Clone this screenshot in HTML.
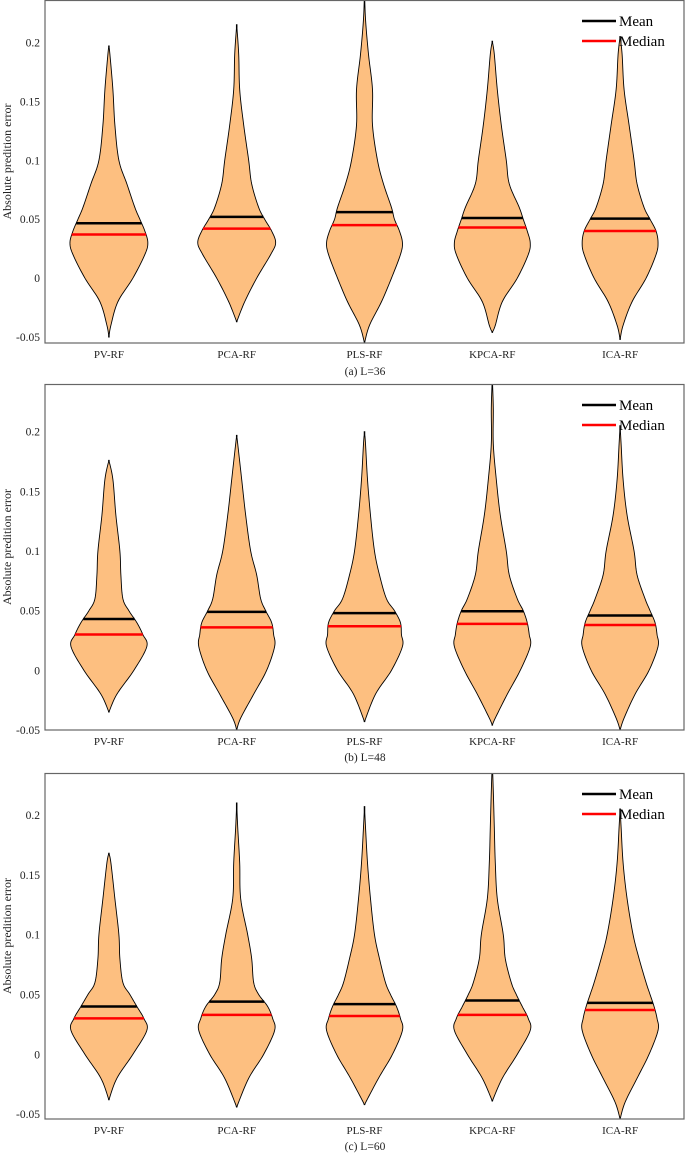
<!DOCTYPE html>
<html><head><meta charset="utf-8"><style>
html,body{margin:0;padding:0;background:#fff;}
svg{display:block;font-family:"Liberation Serif",serif;}
</style></head><body>
<svg id="chart" width="685" height="1154" viewBox="0 0 685 1154" xmlns="http://www.w3.org/2000/svg"></svg>
<script>
const categories = ["PV-RF","PCA-RF","PLS-RF","KPCA-RF","ICA-RF"];
const captions = ["(a) L=36","(b) L=48","(c) L=60"];
const yTicks = [-0.05,0,0.05,0.1,0.15,0.2];
const yTickLabels = ["-0.05","0","0.05","0.1","0.15","0.2"];
const levels = [-0.04,-0.02,0,0.02,0.03,0.04,0.05,0.06,0.08,0.10,0.13,0.16,0.19,0.22];
// panel (a) L=36
const minA = [-0.050,-0.037,-0.055,-0.046,-0.052];
const maxA = [0.197,0.215,0.245,0.201,0.205];
const meanA = [0.0466,0.052,0.056,0.051,0.0505];
const medianA = [0.037,0.042,0.045,0.043,0.040];
const widthA = [
 [2,9,24,36,39,36,31,26,18,10,6,4,1,0],
 [0,8,20,34,39,35,28,22,15,12,7,3,2,0],
 [5,17,27,36,38,35,30,27,19,13,8,8,4,1],
 [3,10,25,36,38,35,31,27,17,14,9,5,2,0],
 [3,12,26,36,38,36,30,24,17,14,9,4,2,0]
];
// panel (b) L=48
const minB = [-0.035,-0.050,-0.043,-0.046,-0.050];
const maxB = [0.176,0.197,0.200,0.245,0.205];
const meanB = [0.043,0.049,0.048,0.0495,0.046];
const medianB = [0.030,0.036,0.037,0.039,0.038];
const widthB = [
 [0,8,25,38,34,28,20,14,12,11,7,4,0,0],
 [4,17,30,38,37,35,29,24,20,14,9,5,1,0],
 [2,11,27,38,37,36,30,22,15,10,6,3,1,0],
 [3,15,28,38,37,35,31,25,17,14,8,4,1,1],
 [4,15,29,38,37,35,30,25,17,14,7,3,1,0]
];
// panel (c) L=60
const minC = [-0.038,-0.044,-0.042,-0.039,-0.054];
const maxC = [0.168,0.210,0.207,0.245,0.205];
const meanC = [0.040,0.044,0.042,0.045,0.043];
const medianC = [0.030,0.033,0.032,0.033,0.037];
const widthC = [
 [0,8,24,38,35,28,21,14,11,10,6,2,0,0],
 [2,12,27,38,36,31,22,17,15,11,4,3,1,0],
 [2,14,28,38,36,32,26,21,15,10,6,3,1,0],
 [0,10,25,38,36,30,24,19,13,11,5,3,2,1],
 [5,17,29,38,37,34,30,26,19,13,7,3,1,0]
];

const panels = [
 {top:0,bottom:343,ymin:-0.055,ymax:0.236,mins:minA,maxs:maxA,means:meanA,medians:medianA,widths:widthA,catY:358,capY:375},
 {top:384,bottom:730,ymin:-0.050,ymax:0.240,mins:minB,maxs:maxB,means:meanB,medians:medianB,widths:widthB,catY:745,capY:761},
 {top:773,bottom:1119,ymin:-0.054,ymax:0.235,mins:minC,maxs:maxC,means:meanC,medians:medianC,widths:widthC,catY:1134,capY:1150}
];
const NS="http://www.w3.org/2000/svg";
const svg=document.getElementById('chart');
const L=45,R=684;
function mk(tag,attrs,parent){const e=document.createElementNS(NS,tag);for(const k in attrs)e.setAttribute(k,attrs[k]);(parent||svg).appendChild(e);return e;}
function xScale(i){return L+(i+0.5)*(R-L)/categories.length;}
const wScale=(R-L)/categories.length/128; // density units -> px

panels.forEach((p,pi)=>{
 const g=mk('g',{});
 
 
 const yS=v=>p.bottom-(v-p.ymin)/(p.ymax-p.ymin)*(p.bottom-p.top);
 const clipId='clip'+pi;
 const cp=mk('clipPath',{id:clipId},g);
 mk('rect',{x:L,y:p.top,width:R-L,height:p.bottom-p.top},cp);
 const plot=mk('g',{'clip-path':'url(#'+clipId+')'},g);
 categories.forEach((c,ci)=>{
  const cx=xScale(ci);
  const pts=[[p.mins[ci],0]];
  levels.forEach((lv,li)=>{if(lv>p.mins[ci]+0.004&&lv<p.maxs[ci]-0.004)pts.push([lv,p.widths[ci][li]]);});
  pts.push([p.maxs[ci],0]);
  // catmull-rom sample
  const samp=[];
  for(let k=0;k<pts.length-1;k++){
   const p0=pts[Math.max(0,k-1)],p1=pts[k],p2=pts[k+1],p3=pts[Math.min(pts.length-1,k+2)];
   for(let t=0;t<1;t+=0.1){
    const t2=t*t,t3=t2*t;
    const f=(a,b,c2,d)=>0.5*((2*b)+(-a+c2)*t+(2*a-5*b+4*c2-d)*t2+(-a+3*b-3*c2+d)*t3);
    samp.push([f(p0[0],p1[0],p2[0],p3[0]),Math.max(0.3,f(p0[1],p1[1],p2[1],p3[1]))]);
   }
  }
  samp.push([p.maxs[ci],0.3]);
  let d='';
  samp.forEach((s,k)=>{d+=(k?'L':'M')+(cx+s[1]*wScale).toFixed(2)+','+yS(s[0]).toFixed(2);});
  for(let k=samp.length-1;k>=0;k--){d+='L'+(cx-samp[k][1]*wScale).toFixed(2)+','+yS(samp[k][0]).toFixed(2);}
  d+='Z';
  const v=mk('path',{d:d,fill:'#fdbf80',stroke:'#000','stroke-width':'0.9'},plot);
  
  
  const halfAt=val=>{for(let k=0;k<samp.length-1;k++){if(val>=samp[k][0]&&val<=samp[k+1][0]){const r=(val-samp[k][0])/(samp[k+1][0]-samp[k][0]||1);return (samp[k][1]+r*(samp[k+1][1]-samp[k][1]))*wScale;}}return 0;};
  const hm=halfAt(p.means[ci]);
  const ml=mk('line',{x1:cx-hm,x2:cx+hm,y1:yS(p.means[ci]),y2:yS(p.means[ci]),stroke:'#000','stroke-width':'2.5'},plot);
  
  
  const hd=halfAt(p.medians[ci]);
  const dl=mk('line',{x1:cx-hd,x2:cx+hd,y1:yS(p.medians[ci]),y2:yS(p.medians[ci]),stroke:'#ff0000','stroke-width':'2.5'},plot);
  
  
  const t=mk('text',{x:cx,y:p.catY,'text-anchor':'middle','font-size':'11',fill:'#222'},g);
  t.textContent=c;
  
  
 });
 const box=mk('rect',{x:L,y:p.top+0.5,width:R-L,height:p.bottom-p.top-0.5,fill:'none',stroke:'#666','stroke-width':'1.2'},g);
 
 
 yTicks.forEach((tv,ti)=>{
  const tt=mk('text',{x:40,y:yS(tv)+4,'text-anchor':'end','font-size':'11.5',fill:'#222'},g);
  tt.textContent=yTickLabels[ti];
  
  
 });
 const yc=(p.top+p.bottom)/2-10;
 const yt=mk('text',{x:0,y:0,transform:'translate(11,'+yc+') rotate(-90)','text-anchor':'middle','font-size':'12',fill:'#222'},g);
 yt.textContent='Absolute predition error';
 
 
 const cap=mk('text',{x:365,y:p.capY,'text-anchor':'middle','font-size':'11.5',fill:'#222'},g);
 cap.textContent=captions[pi];
 
 
 const lg=mk('g',{},g);
 
 
 const ly=p.top+21;
 const l1=mk('line',{x1:582,x2:616,y1:ly,y2:ly,stroke:'#000','stroke-width':'2.5'},lg);
 
 
 const t1=mk('text',{x:619,y:ly+5,'font-size':'15',fill:'#000'},lg);
 t1.textContent='Mean';
 
 
 const l2=mk('line',{x1:582,x2:616,y1:ly+20,y2:ly+20,stroke:'#ff0000','stroke-width':'2.5'},lg);
 
 
 const t2=mk('text',{x:619,y:ly+25,'font-size':'15',fill:'#000'},lg);
 t2.textContent='Median';
 
 
});
</script>
</body></html>
